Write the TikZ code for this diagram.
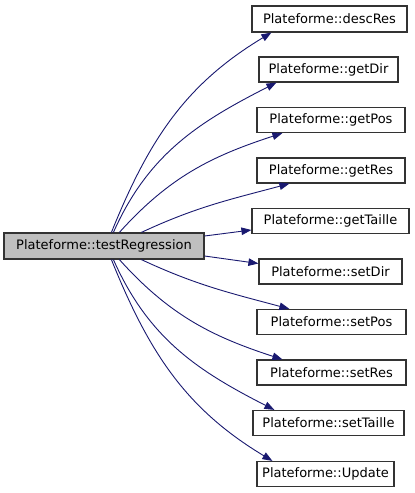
\documentclass[tikz,border=0pt]{standalone}
\usepackage{fontspec}
\setmainfont{DejaVu Sans}
\usetikzlibrary{arrows.meta}
\definecolor{edgeblue}{HTML}{191970}
\definecolor{boxgray}{HTML}{BFBFBF}
\definecolor{boxline}{HTML}{333333}
\begin{document}
\begin{tikzpicture}[x=1pt,y=-1pt,
  box/.style={draw=boxline, line width=1.2pt, fill=white, inner sep=0pt,
    minimum height=25pt, font=\fontsize{13}{15}\selectfont, text=black},
  call/.style={draw=edgeblue, line width=0.9pt, -{Triangle[length=10pt,width=7.5pt]}}]
\useasboundingbox (0,0) rectangle (415,493);
\node[box, fill=boxgray, minimum width=200pt, minimum height=26pt] (main) at (104,246) {Plateforme::testRegression};
\node[box, minimum width=155pt, minimum height=26pt] (descRes) at (329.5,19) {Plateforme::descRes};
\node[box, minimum width=139pt] (getDir) at (328.5,69.5) {Plateforme::getDir};
\node[box, minimum width=148pt] (getPos) at (331,120) {Plateforme::getPos};
\node[box, minimum width=148pt] (getRes) at (331,170.5) {Plateforme::getRes};
\node[box, minimum width=157pt] (getTaille) at (330.5,221) {Plateforme::getTaille};
\node[box, minimum width=143pt] (setDir) at (330.5,271.5) {Plateforme::setDir};
\node[box, minimum width=149pt] (setPos) at (331.5,322) {Plateforme::setPos};
\node[box, minimum width=149pt] (setRes) at (331.5,372.5) {Plateforme::setRes};
\node[box, minimum width=151pt] (setTaille) at (328.5,423) {Plateforme::setTaille};
\node[box, minimum width=137pt] (Update) at (325.5,474) {Plateforme::Update};
\draw[call] ([xshift=108pt]main.north west) to[out=68,in=211] ([xshift=20pt]descRes.south west);
\draw[call] ([xshift=110pt]main.north west) to[out=66,in=207] ([xshift=18pt]getDir.south west);
\draw[call] ([xshift=116pt]main.north west) to[out=48,in=198] ([xshift=26pt]getPos.south west);
\draw[call] ([xshift=138pt]main.north west) to[out=25,in=195] ([xshift=33pt]getRes.south west);
\draw[call] ([yshift=10pt]main.east) -- ([yshift=-9pt]getTaille.west);
\draw[call] ([yshift=-10pt]main.east) -- ([yshift=8pt]setDir.west);
\draw[call] ([xshift=138pt]main.south west) to[out=-25,in=165] ([xshift=33pt]setPos.north west);
\draw[call] ([xshift=116pt]main.south west) to[out=-48,in=162] ([xshift=26pt]setRes.north west);
\draw[call] ([xshift=110pt]main.south west) to[out=-66,in=153] ([xshift=22pt]setTaille.north west);
\draw[call] ([xshift=108pt]main.south west) to[out=-68,in=149] ([xshift=16pt]Update.north west);
\end{tikzpicture}
\end{document}
